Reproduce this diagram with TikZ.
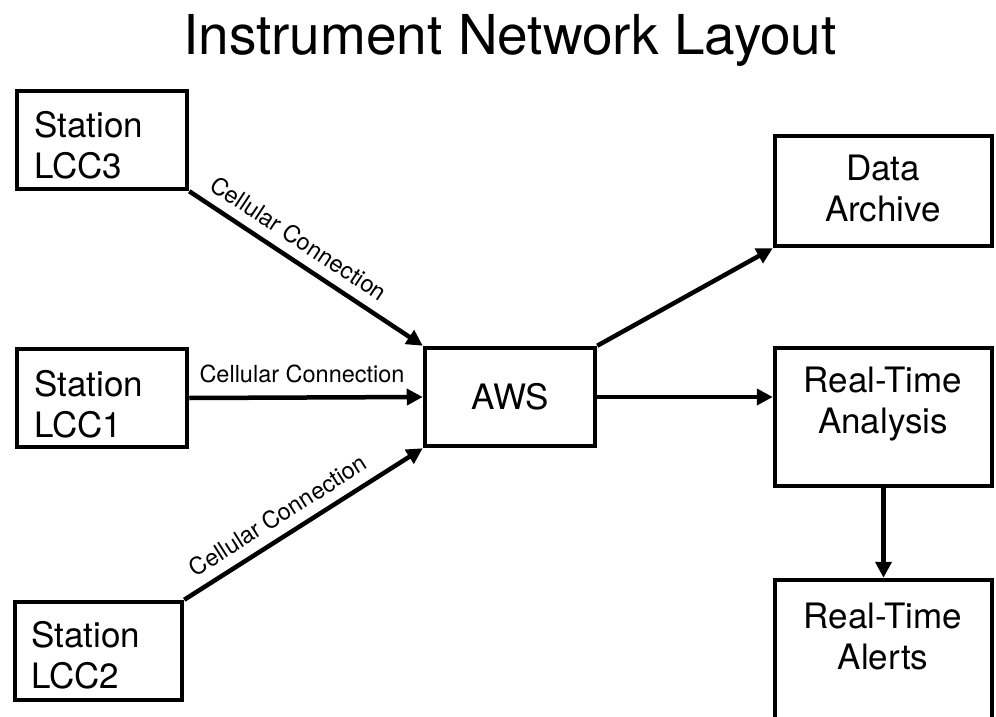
\documentclass[tikz,border=0pt]{standalone}
\usepackage{fontspec}
\setmainfont{TeX Gyre Heros}
\usetikzlibrary{arrows.meta}
\begin{document}
\begin{tikzpicture}[x=1pt,y=-1pt,
  box/.style={draw, line width=4.5pt, inner sep=0pt, font=\fontsize{35}{41}\selectfont},
  txt/.style={inner sep=0pt, font=\fontsize{35}{41}\selectfont},
  lbl/.style={inner sep=0pt, font=\fontsize{23.5}{28}\selectfont},
  conn/.style={line width=4.5pt, -{Triangle[length=16pt,width=16pt]}},
]
\useasboundingbox (0,0) rectangle (996,717);
\node[inner sep=0pt, font=\fontsize{55}{66}\selectfont, anchor=base] (title) at (510,55) {Instrument Network Layout};

% boxes
\node[box, minimum width=170pt, minimum height=98pt] (lcc3) at (102,140) {};
\node[box, minimum width=170pt, minimum height=98pt] (lcc1) at (102,398) {};
\node[box, minimum width=167pt, minimum height=98pt] (lcc2) at (98.5,651) {};
\node[box, minimum width=170pt, minimum height=98pt] (aws) at (510,397) {AWS};
\node[box, minimum width=217pt, minimum height=110pt] (arch) at (883.5,191) {};
\node[box, minimum width=217pt, minimum height=138pt] (rta) at (883.5,417) {};
\node[box, minimum width=217pt, minimum height=142pt] (alerts) at (883.5,651) {};

% texts (base anchor = baseline of the last line)
\node[txt, anchor=base west, align=left] (lcc3t) at (34,178) {Station\\LCC3};
\node[txt, anchor=base west, align=left] (lcc1t) at (34,437) {Station\\LCC1};
\node[txt, anchor=base west, align=left] (lcc2t) at (31,688) {Station\\LCC2};
\node[txt, anchor=base, align=center] (archt) at (883,221) {Data\\Archive};
\node[txt, anchor=base, align=center] (rtat) at (883,433) {Real-Time\\Analysis};
\node[txt, anchor=base, align=center] (alertst) at (883,669) {Real-Time\\Alerts};

% connectors
\draw[conn] (lcc3.south east) -- (aws.north west)
  node[lbl, pos=.42, sloped, above=10pt] (c3) {Cellular Connection};
\draw[conn] (lcc1.east) -- (aws.west)
  node[lbl, pos=.483, above=12pt] (c1) {Cellular Connection};
\draw[conn] (lcc2.north east) -- (aws.south west)
  node[lbl, pos=.44, sloped, above=10pt] (c2) {Cellular Connection};
\draw[conn] (aws.north east) -- (arch.south west);
\draw[conn] (aws.east) -- (aws.east -| rta.west);
\draw[conn] (rta.south) -- (alerts.north);
\end{tikzpicture}
\end{document}
